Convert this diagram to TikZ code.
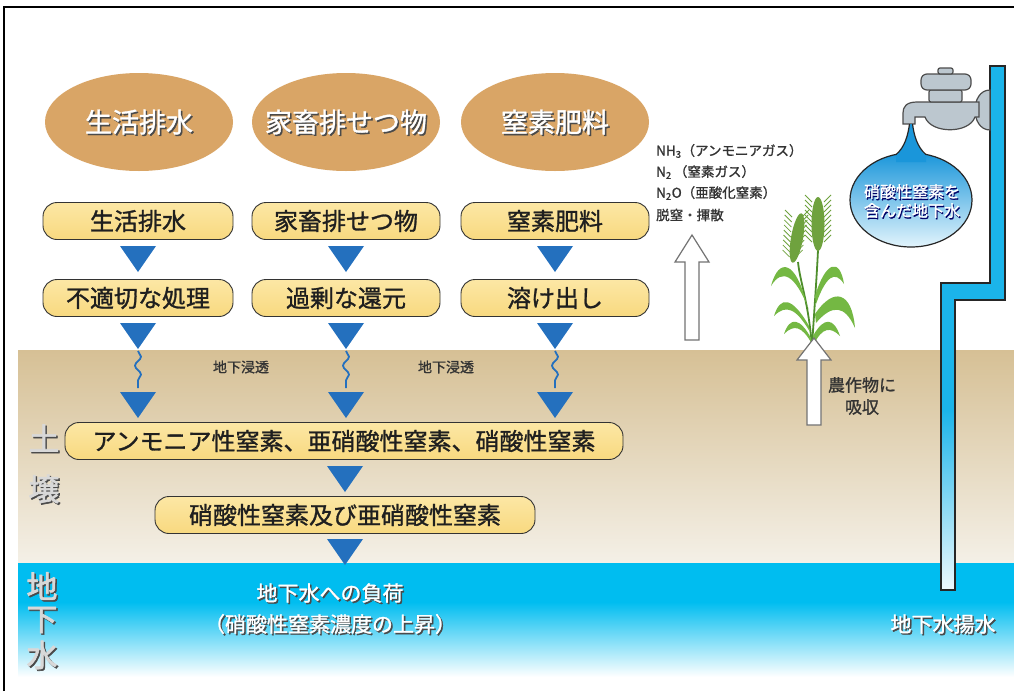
\documentclass[tikz,border=0pt]{standalone}
\usepackage{fontspec}
\setmainfont{Noto Sans CJK JP}
\newfontfamily\jpm{Noto Sans CJK JP}[FakeBold=1.2]
\newfontfamily\jpb{Noto Sans CJK JP}[FakeBold=2]
\usetikzlibrary{shapes.geometric,decorations.pathmorphing,calc}

\definecolor{ovalfill}{HTML}{D9A566}
\definecolor{boxtop}{HTML}{FCE7A4}
\definecolor{boxbot}{HTML}{F8D97F}
\definecolor{tri}{HTML}{2470BE}
\definecolor{soiltop}{HTML}{D6C095}
\definecolor{soilbot}{HTML}{F4F0E7}
\definecolor{water}{HTML}{00BDF0}
\definecolor{pipeblue}{HTML}{1BB4EA}
\definecolor{gastext}{HTML}{333333}
\definecolor{faucet}{HTML}{BCC7CF}
\definecolor{leaf}{HTML}{74B843}
\definecolor{leafdark}{HTML}{4E8E2C}
\definecolor{ear}{HTML}{6FA23E}
\definecolor{baltop}{HTML}{1A96DA}
\definecolor{balbot}{HTML}{E2F4FC}
\definecolor{shadowgray}{HTML}{4A4A4A}
\definecolor{labelgray}{HTML}{D8D8D8}

% text drawn twice: a dark copy slightly offset, then the text itself
\newcommand\shtext[4]{%
  \node[#3, text=shadowgray] (#2-sh) at ($(#1)+(1.5,1.5)$) {#4};%
  \node[#3] (#2) at (#1) {#4};}
% blue down-pointing triangle: centre x, top y
\newcommand\dtri[2]{\fill[tri] (#1-18,#2) -- (#1+18,#2) -- (#1,#2+26) -- cycle;}
% hollow up arrow: centre x, tip y, head base y, bottom y
\newcommand\uparrowbox[4]{%
  \draw[hollow] (#1-7,#4) -- (#1-7,#3) -- (#1-17,#3) -- (#1,#2) --
    (#1+17,#3) -- (#1+7,#3) -- (#1+7,#4) -- cycle;}

\begin{document}
\begin{tikzpicture}[x=1pt,y=-1pt,
  every node/.style={inner sep=0pt},
  oval/.style={ellipse, fill=ovalfill, minimum width=188, minimum height=98},
  ovaltext/.style={text=white, font=\jpm\fontsize{27}{29}\selectfont},
  stepbox/.style={draw=black!80, line width=0.9, rounded corners=14,
    top color=boxtop, bottom color=boxbot, minimum height=37,
    font=\jpm\fontsize{24}{26}\selectfont, text=black!88},
  smalltext/.style={text=gastext, font=\jpm\fontsize{14}{16}\selectfont},
  gas/.style={text=gastext, font=\jpm\fontsize{13.5}{15}\selectfont, anchor=west},
  sidelabel/.style={text=labelgray, font=\jpb\fontsize{31}{33}\selectfont},
  bottomtext/.style={text=white, font=\jpm\fontsize{21}{23}\selectfont},
  hollow/.style={fill=white, draw=black!55, line width=1.2},
  wave/.style={draw=tri, line width=1.8, decorate,
    decoration={snake, amplitude=3, segment length=18}},
]
\useasboundingbox (0,0) rectangle (1014,691);
\fill[white] (0,0) rectangle (1014,691);

% ---- soil and groundwater layers
\shade[top color=soiltop, bottom color=soilbot] (18,350) rectangle (1014,563);
\fill[water] (18,563) rectangle (1014,602);
\shade[top color=water, bottom color=white] (18,602) rectangle (1014,677);

% ---- frame
\draw[line width=2] (4,691) -- (4,7) -- (1014,7);

% ---- sources
\node[oval] (o1) at (139,122) {};
\node[oval] (o2) at (346,122) {};
\node[oval] (o3) at (555,122) {};
\shtext{o1}{o1t}{ovaltext}{生活排水}
\shtext{o2}{o2t}{ovaltext}{家畜排せつ物}
\shtext{o3}{o3t}{ovaltext}{窒素肥料}

% ---- flow boxes
\node[stepbox, minimum width=190] (b1) at (138,221) {生活排水};
\node[stepbox, minimum width=188] (b2) at (346,221) {家畜排せつ物};
\node[stepbox, minimum width=188] (b3) at (555,221) {窒素肥料};
\node[stepbox, minimum width=190] (c1) at (138,298) {不適切な処理};
\node[stepbox, minimum width=188] (c2) at (346,298) {過剰な還元};
\node[stepbox, minimum width=188] (c3) at (555,298) {溶け出し};
\node[stepbox, minimum width=558] (d) at (344,441) {アンモニア性窒素、亜硝酸性窒素、硝酸性窒素};
\node[stepbox, minimum width=380] (e) at (345,515) {硝酸性窒素及び亜硝酸性窒素};

% ---- triangles between the boxes
\dtri{138}{246}
\dtri{346}{246}
\dtri{555}{246}
\dtri{138}{323}
\dtri{346}{323}
\dtri{555}{323}
\dtri{138}{392}
\dtri{346}{392}
\dtri{555}{392}
\dtri{345}{466}
\dtri{345}{539}

% ---- infiltration
\coordinate (w1a) at (138,351); \coordinate (w1b) at (138,388);
\coordinate (w2a) at (346,351); \coordinate (w2b) at (346,388);
\coordinate (w3a) at (555,351); \coordinate (w3b) at (555,388);
\draw[wave] (w1a) -- (w1b);
\draw[wave] (w2a) -- (w2b);
\draw[wave] (w3a) -- (w3b);
\node[smalltext] (inf1) at (241,367) {地下浸透};
\node[smalltext] (inf2) at (446,367) {地下浸透};

% ---- layer labels
\shtext{44,438}{s1}{sidelabel}{土}
\shtext{44,489}{s2}{sidelabel}{壌}
\shtext{42,586}{g1}{sidelabel}{地}
\shtext{42,620}{g2}{sidelabel}{下}
\shtext{42,655}{g3}{sidelabel}{水}

% ---- groundwater texts
\shtext{330,593}{load1}{bottomtext}{地下水への負荷}
\shtext{330,624}{load2}{bottomtext}{（硝酸性窒素濃度の上昇）}
\shtext{943,624}{pump}{bottomtext}{地下水揚水}

% ---- denitrification / volatilisation
\node[gas] (gas1) at (656,151) {NH\textsubscript{3}（アンモニアガス）};
\node[gas] (gas2) at (656,172) {N\textsubscript{2}\,（窒素ガス）};
\node[gas] (gas3) at (656,193) {N\textsubscript{2}O（亜酸化窒素）};
\node[gas] (gas4) at (656,215) {脱窒・揮散};
\uparrowbox{692}{235}{262}{340}

% ---- crop
\draw[leafdark, line width=1.8] (812,346) .. controls (808,300) and (800,282) .. (798,262);
\draw[leafdark, line width=1.8] (812,346) .. controls (815,300) and (817,272) .. (818,250);
\fill[leaf] (806,302) .. controls (796,262) and (779,256) .. (771,286)
  .. controls (782,268) and (795,274) .. (809,310) -- cycle;
\fill[leaf] (809,326) .. controls (792,296) and (780,296) .. (774,316)
  .. controls (786,304) and (796,308) .. (810,332) -- cycle;
\fill[leaf] (815,296) .. controls (826,260) and (840,258) .. (844,284)
  .. controls (835,270) and (826,276) .. (816,304) -- cycle;
\fill[leaf] (815,314) .. controls (834,286) and (852,292) .. (855,328)
  .. controls (845,305) and (832,304) .. (816,323) -- cycle;
\fill[leaf] (811,338) .. controls (800,318) and (790,316) .. (784,334)
  .. controls (794,324) and (802,326) .. (812,344) -- cycle;
\fill[leaf] (813,336) .. controls (824,316) and (834,318) .. (840,336)
  .. controls (830,326) and (822,328) .. (814,344) -- cycle;
\fill[ear, rotate around={-10:(797,238)}] (797,238) ellipse [x radius=6, y radius=25];
\fill[ear] (818,224) ellipse [x radius=6.5, y radius=27];
\foreach \t in {0,...,8} {
  \draw[ear, line width=0.8] (792-0.3*\t,217+5*\t) -- (785-0.3*\t,210+5*\t);
  \draw[ear, line width=0.8] (802-0.8*\t,217+5*\t) -- (809-0.8*\t,210+5*\t);
  \draw[ear, line width=0.8] (812,202+5*\t) -- (805,195+5*\t);
  \draw[ear, line width=0.8] (824,202+5*\t) -- (831,195+5*\t);
}
\uparrowbox{814}{338}{360}{425}
\node[smalltext, font=\jpm\fontsize{17}{22}\selectfont, align=center] (crop) at (862,396) {農作物に\\吸収};

% ---- well pipe
\fill[pipeblue] (990,66) -- (1005,66) -- (1005,300) -- (955,300) -- (955,590)
  -- (941,590) -- (941,283) -- (990,283) -- cycle;
\shade[top color=pipeblue, bottom color=white!92!pipeblue] (941,410) rectangle (955,590);
\draw[line width=1.6, black!85] (990,66) -- (1005,66) -- (1005,300) -- (955,300)
  -- (955,590) -- (941,590) -- (941,283) -- (990,283) -- cycle;

% ---- tap
\begin{scope}[fill=faucet, draw=black!70, line width=1.2]
\filldraw (990,90) .. controls (970,90) and (970,130) .. (990,130) -- cycle;
\filldraw (979,102) -- (917,102) .. controls (906,102) and (903,107) .. (903,113)
  -- (903,124) -- (915,124) -- (915,117) -- (925,117)
  .. controls (931,134) and (969,134) .. (975,117) -- (979,117) -- cycle;
\filldraw[rounded corners=2] (929,90) rectangle (962,102);
\filldraw[rounded corners=6] (921,74) rectangle (971,90);
\filldraw[rounded corners=2] (938,68) rectangle (953,74);
\end{scope}

% ---- water drop balloon
\node[ellipse, draw=black!85, line width=1.2, top color=baltop, bottom color=balbot,
  minimum width=122, minimum height=94] (bal) at (911,200) {};
\fill[baltop] (896,155) .. controls (905,147) and (908,135) .. (909.5,124)
  -- (912.5,124) .. controls (914,135) and (917,147) .. (926,155)
  -- (926,162) -- (896,162) -- cycle;
\draw[black!85, line width=1.2] (896,154.6) .. controls (905,147) and (908,135) .. (909.5,124);
\draw[black!85, line width=1.2] (912.5,124) .. controls (914,135) and (917,147) .. (926,154.6);
\node[text=black!60!blue, font=\jpm\fontsize{16}{19}\selectfont, align=center] (balt-sh) at (913,202.5) {硝酸性窒素を\\含んだ地下水};
\node[text=white, font=\jpm\fontsize{16}{19}\selectfont, align=center] (balt) at (912,201) {硝酸性窒素を\\含んだ地下水};
\end{tikzpicture}
\end{document}
